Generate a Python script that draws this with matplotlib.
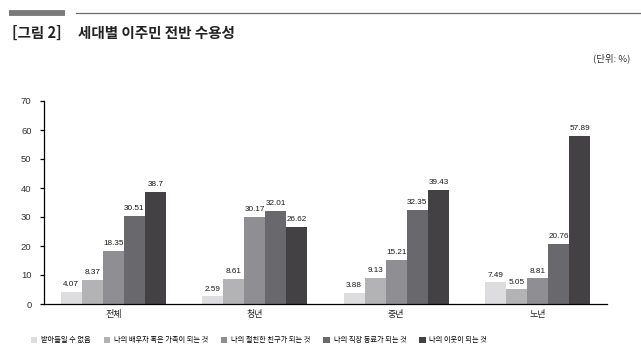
import matplotlib as mpl
import numpy as np
from matplotlib import pyplot as plt
from matplotlib import lines, patches

mpl.use("Agg")
plt.rcParams["font.family"] = ["Noto Sans CJK KR", "DejaVu Sans"]

groups = ["전체", "청년", "중년", "노년"]
series_names = [
    "받아들일 수 없음",
    "나의 배우자 혹은 가족이 되는 것",
    "나의 절친한 친구가 되는 것",
    "나의 직장 동료가 되는 것",
    "나의 이웃이 되는 것",
]
not_acceptable = [4.07, 2.59, 3.88, 7.49]
spouse_family = [8.37, 8.61, 9.13, 5.05]
close_friend = [18.35, 30.17, 15.21, 8.81]
coworker = [30.51, 32.01, 32.35, 20.76]
neighbour = [38.7, 26.62, 39.43, 57.89]
series_values = [not_acceptable, spouse_family, close_friend, coworker, neighbour]
colours = ["#dddddf", "#b3b3b5", "#8f8f93", "#69696d", "#434143"]
y_ticks = [0, 10, 20, 30, 40, 50, 60, 70]

W, H = 641, 361
fig = plt.figure(figsize=(W / 100, H / 100), dpi=100)
fig.patch.set_facecolor("white")

# header decoration
fig.add_artist(lines.Line2D([9 / W, 65 / W], [1 - 13 / H] * 2, color="#7a7a7a", lw=4.2, solid_capstyle="butt"))
fig.add_artist(lines.Line2D([76 / W, 1.0], [1 - 13 / H] * 2, color="#6a6a6a", lw=0.9))
fig.text(12 / W, 1 - 33 / H, "[그림 2]", fontsize=10.5, fontweight="bold", color="#222222", va="center")
fig.text(78 / W, 1 - 33 / H, "세대별 이주민 전반 수용성", fontsize=10.5, fontweight="bold", color="#222222", va="center")
fig.text(630 / W, 1 - 58 / H, "(단위: %)", fontsize=6.8, color="#333333", ha="right", va="center")

ax = fig.add_axes([44 / W, 1 - 304 / H, (607 - 44) / W, (304 - 101) / H])
x = np.arange(len(groups))
width = 0.149
for i, (vals, col) in enumerate(zip(series_values, colours)):
    pos = x + (i - 2) * width
    ax.bar(pos, vals, width=width, color=col, edgecolor="none", zorder=2)
    for px, v in zip(pos, vals):
        ax.text(px, v + 1.3, f"{v:g}", ha="center", va="bottom", fontsize=5.9, color="#1a1a1a",
                family=["Liberation Sans"])

ax.set_xlim(-0.49, 3.49)
ax.set_ylim(0, 70)
ax.set_yticks(y_ticks)
ax.set_yticklabels([str(t) for t in y_ticks], fontsize=6.8, color="#333333", family=["Liberation Sans"])
ax.set_xticks(x)
ax.set_xticklabels(groups, fontsize=6.5, color="#222222")
ax.tick_params(axis="x", length=0, pad=4)
ax.tick_params(axis="y", length=3, width=0.9, direction="out", pad=6)
for side in ["top", "right"]:
    ax.spines[side].set_visible(False)
ax.spines["left"].set_linewidth(0.9)
ax.spines["bottom"].set_linewidth(0.9)

handles = [patches.Patch(facecolor=c, edgecolor="none") for c in colours]
fig.legend(handles, series_names, loc="center left", bbox_to_anchor=(28 / W, 1 - 340 / H), ncol=5,
           frameon=False, fontsize=5.2, handlelength=0.9, handleheight=0.9, handletextpad=0.5,
           columnspacing=1.8, borderaxespad=0)

fig.savefig("out.png", dpi=100)
